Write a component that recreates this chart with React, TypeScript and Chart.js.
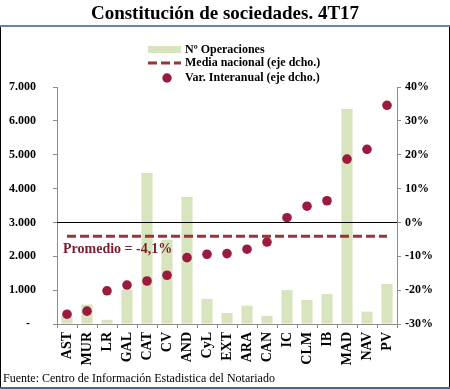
import React, { useEffect, useRef } from 'react';
import { Chart, registerables } from 'chart.js';

Chart.register(...registerables);

const categories = ['AST', 'MUR', 'LR', 'GAL', 'CAT', 'CV', 'AND', 'CyL', 'EXT', 'ARA', 'CAN', 'IC', 'CLM', 'IB', 'MAD', 'NAV', 'PV'];
const operaciones = [245, 575, 125, 1010, 4460, 2490, 3750, 740, 325, 540, 240, 1000, 710, 885, 6350, 365, 1180];
const varInteranual = [-27.1, -26.2, -20.2, -18.5, -17.3, -15.6, -10.4, -9.4, -9.2, -7.9, -5.8, 1.4, 4.8, 6.4, 18.7, 21.6, 34.6];
const mediaNacional = [-4.1, -4.1, -4.1, -4.1, -4.1, -4.1, -4.1, -4.1, -4.1, -4.1, -4.1, -4.1, -4.1, -4.1, -4.1, -4.1, -4.1];
const mediaValue = -4.1;

const leftAxis = { min: 0, max: 7000, step: 1000 };
const rightAxis = { min: -30, max: 40, step: 10 };

const titleText = 'Constitución de sociedades. 4T17';
const legendLabels = ['Nº Operaciones', 'Media nacional (eje dcho.)', 'Var. Interanual (eje dcho.)'];
const promedioText = 'Promedio = -4,1%';
const footerText = 'Fuente: Centro de Información Estadistica del Notariado';

const SERIF = "'Liberation Serif', 'Times New Roman', serif";
const BAR_COLOR = '#D7E4BD';
const DOT_COLOR = '#9B1B3E';
const DASH_COLOR = '#953735';
const AXIS_COLOR = '#8c8c8c';

const fmtThousands = (v: number) => {
  if (v === 0) return '-  ';
  return String(v).replace(/\B(?=(\d{3})+(?!\d))/g, '.');
};

const overlayPlugin = {
  id: 'overlay',
  afterDatasetsDraw(chart: any) {
    const { ctx, chartArea, scales } = chart;
    const y1 = scales.y1;
    const y0 = Math.round(y1.getPixelForValue(0)) + 0.5;
    ctx.save();
    ctx.strokeStyle = '#000';
    ctx.lineWidth = 1.2;
    ctx.beginPath();
    ctx.moveTo(chartArea.left, y0);
    ctx.lineTo(chartArea.right, y0);
    ctx.stroke();
    ctx.font = `bold 14px ${SERIF}`;
    ctx.fillStyle = '#7A1C2E';
    ctx.textBaseline = 'middle';
    ctx.textAlign = 'left';
    ctx.fillText(promedioText, chartArea.left + 6, y1.getPixelForValue(mediaValue) + 13);
    ctx.restore();
  },
  afterDraw(chart: any) {
    const { ctx } = chart;
    ctx.save();
    ctx.font = `bold 12px ${SERIF}`;
    ctx.textBaseline = 'middle';
    ctx.textAlign = 'left';
    const tx = 185;
    const rows = [49.5, 63, 78];
    ctx.fillStyle = BAR_COLOR;
    ctx.fillRect(148, 46, 33, 7);
    ctx.strokeStyle = DASH_COLOR;
    ctx.lineWidth = 3;
    ctx.setLineDash([9, 4]);
    ctx.beginPath();
    ctx.moveTo(148, rows[1]);
    ctx.lineTo(181, rows[1]);
    ctx.stroke();
    ctx.setLineDash([]);
    ctx.fillStyle = DOT_COLOR;
    ctx.beginPath();
    ctx.arc(167, rows[2], 4.7, 0, Math.PI * 2);
    ctx.fill();
    ctx.fillStyle = '#000';
    legendLabels.forEach((t, i) => ctx.fillText(t, tx, rows[i]));
    ctx.font = `12px ${SERIF}`;
    ctx.textBaseline = 'alphabetic';
    ctx.fillText(footerText, 3, 381.5);
    ctx.restore();
  },
};

export default function App() {
  const ref = useRef<HTMLCanvasElement | null>(null);

  useEffect(() => {
    document.body.style.margin = '0';
    if (!ref.current) return;
    const chart = new Chart(ref.current, {
      type: 'bar',
      data: {
        labels: categories,
        datasets: [
          {
            type: 'line',
            label: legendLabels[2],
            data: varInteranual,
            yAxisID: 'y1',
            showLine: false,
            pointRadius: 4.8,
            pointHoverRadius: 4.8,
            pointBackgroundColor: DOT_COLOR,
            pointBorderWidth: 0,
            backgroundColor: DOT_COLOR,
            borderColor: DOT_COLOR,
            order: 0,
          } as any,
          {
            type: 'line',
            label: legendLabels[1],
            data: mediaNacional,
            yAxisID: 'y1',
            borderColor: DASH_COLOR,
            borderWidth: 3,
            borderDash: [9, 4],
            pointRadius: 0,
            fill: false,
            order: 1,
          } as any,
          {
            type: 'bar',
            label: legendLabels[0],
            data: operaciones,
            yAxisID: 'y',
            backgroundColor: BAR_COLOR,
            borderWidth: 0,
            barPercentage: 0.56,
            categoryPercentage: 1,
            order: 2,
          } as any,
        ],
      },
      options: {
        responsive: false,
        animation: false,
        devicePixelRatio: 1,
        layout: { padding: { left: 0, right: 0, top: 0, bottom: 0 } },
        plugins: {
          legend: { display: false },
          tooltip: { enabled: false },
          title: {
            display: true,
            text: titleText,
            color: '#000',
            font: { family: SERIF, size: 19, weight: 'bold' },
            padding: { top: 3, bottom: 61.2 },
          },
        },
        scales: {
          x: {
            offset: true,
            grid: {
              display: true,
              drawOnChartArea: false,
              drawTicks: true,
              tickLength: 4,
              tickColor: AXIS_COLOR,
              offset: true,
            },
            border: { display: true, color: AXIS_COLOR },
            ticks: {
              autoSkip: false,
              maxRotation: 90,
              minRotation: 90,
              color: '#000',
              padding: 4,
              font: { family: SERIF, size: 14, weight: 'bold' },
            },
            afterFit: (s: any) => { s.height = 65; },
          },
          y: {
            position: 'left',
            min: leftAxis.min,
            max: leftAxis.max,
            ticks: {
              stepSize: leftAxis.step,
              color: '#000',
              padding: 17,
              font: { family: SERIF, size: 12, weight: 'bold' },
              callback: (v: any) => fmtThousands(Number(v)),
            },
            grid: { drawOnChartArea: false, drawTicks: true, tickLength: 4, tickColor: AXIS_COLOR },
            border: { display: true, color: AXIS_COLOR },
            afterFit: (s: any) => { s.width = 57; },
          },
          y1: {
            position: 'right',
            min: rightAxis.min,
            max: rightAxis.max,
            ticks: {
              stepSize: rightAxis.step,
              color: '#000',
              padding: 4,
              font: { family: SERIF, size: 12, weight: 'bold' },
              callback: (v: any) => `${v}%`,
            },
            grid: { drawOnChartArea: false, drawTicks: true, tickLength: 4, tickColor: AXIS_COLOR },
            border: { display: true, color: AXIS_COLOR },
            afterFit: (s: any) => { s.width = 53; },
          },
        },
      } as any,
      plugins: [overlayPlugin],
    });
    return () => chart.destroy();
  }, []);

  return (
    <div style={{ position: 'relative', width: 450, height: 389, background: '#fff', overflow: 'hidden' }}>
      <canvas ref={ref} width={450} height={389} style={{ position: 'absolute', left: 0, top: 0, width: 450, height: 389 }} />
      <div style={{ position: 'absolute', left: 0, top: 25, width: 450, height: 2, background: '#6C83A8' }} />
      <div style={{ position: 'absolute', left: 0, top: 27, width: 1, height: 360, background: '#000' }} />
      <div style={{ position: 'absolute', left: 449, top: 27, width: 1, height: 360, background: '#000' }} />
      <div style={{ position: 'absolute', left: 0, top: 387, width: 450, height: 2, background: '#4A6590' }} />
    </div>
  );
}
